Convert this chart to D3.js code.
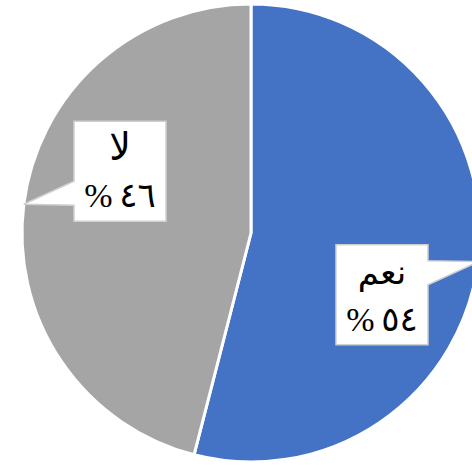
<!DOCTYPE html>
<html>
<head>
<meta charset="utf-8">
<script src="https://cdn.jsdelivr.net/npm/d3@7"></script>
<style>
  html, body { margin: 0; padding: 0; background: #fff; }
  svg { display: block; }
  .label-text { font-family: "Liberation Serif", "DejaVu Sans", serif; font-size: 34px; fill: #000; }
</style>
</head>
<body>
<div id="chart"></div>
<script>
const categories = ['نعم', 'لا'];
const values = [54, 46];
const percentLabels = ['٥٤\u2009%', '٤٦\u2009%'];
const colors = ['#4472C4', '#A5A5A5'];

const width = 472;
const height = 465;
const radius = 229;
const cx = 251;
const cy = 233;

const svg = d3.select('#chart')
  .append('svg')
  .attr('width', width)
  .attr('height', height)
  .attr('viewBox', `0 0 ${width} ${height}`);

const plotG = svg.append('g')
  .attr('transform', `translate(${cx},${cy})`);

const pie = d3.pie().sort(null).value(d => d.value);
const arcs = pie(categories.map((c, i) => ({ name: c, value: values[i], pct: percentLabels[i], color: colors[i] })));

const arc = d3.arc().innerRadius(0).outerRadius(radius);

plotG.selectAll('path.slice')
  .data(arcs)
  .enter()
  .append('path')
  .attr('class', 'slice')
  .attr('d', arc)
  .attr('fill', d => d.data.color)
  .attr('stroke', '#fff')
  .attr('stroke-width', 3)
  .attr('stroke-linejoin', 'round');

// callout boxes
const boxW = 92;
const boxH = 100;
const baseHalf = 12;

arcs.forEach(d => {
  const mid = (d.startAngle + d.endAngle) / 2;
  const dx = Math.sin(mid);
  const dy = -Math.cos(mid);
  const tipX = radius * dx;
  const tipY = radius * dy;
  const bx = Math.sign(dx) * radius * 0.572;
  const by = Math.sign(dy) * radius * 0.27;
  const x0 = bx - boxW / 2;
  const x1 = bx + boxW / 2;
  const y0 = by - boxH / 2;
  const y1 = by + boxH / 2;
  const baseC = by - Math.sign(dy) * 22;

  const p = d3.path();
  if (dx < 0) {
    p.moveTo(x0, y0);
    p.lineTo(x1, y0);
    p.lineTo(x1, y1);
    p.lineTo(x0, y1);
    p.lineTo(x0, baseC + baseHalf);
    p.lineTo(tipX, tipY);
    p.lineTo(x0, baseC - baseHalf);
  } else {
    p.moveTo(x0, y0);
    p.lineTo(x1, y0);
    p.lineTo(x1, baseC - baseHalf);
    p.lineTo(tipX, tipY);
    p.lineTo(x1, baseC + baseHalf);
    p.lineTo(x1, y1);
    p.lineTo(x0, y1);
  }
  p.closePath();

  plotG.append('path')
    .attr('d', p.toString())
    .attr('fill', '#fff')
    .attr('stroke', '#D0D0D0')
    .attr('stroke-width', 1.5);

  plotG.append('text')
    .attr('class', 'label-text')
    .attr('x', bx)
    .attr('y', y0 + 39)
    .attr('text-anchor', 'middle')
    .attr('direction', 'rtl')
    .style('font-size', dx < 0 ? '38px' : '34px')
    .text(d.data.name);

  plotG.append('text')
    .attr('class', 'label-text')
    .attr('x', bx)
    .attr('y', y0 + 86)
    .attr('text-anchor', 'middle')
    .attr('direction', 'rtl')
    .text(d.data.pct);
});
</script>
</body>
</html>
